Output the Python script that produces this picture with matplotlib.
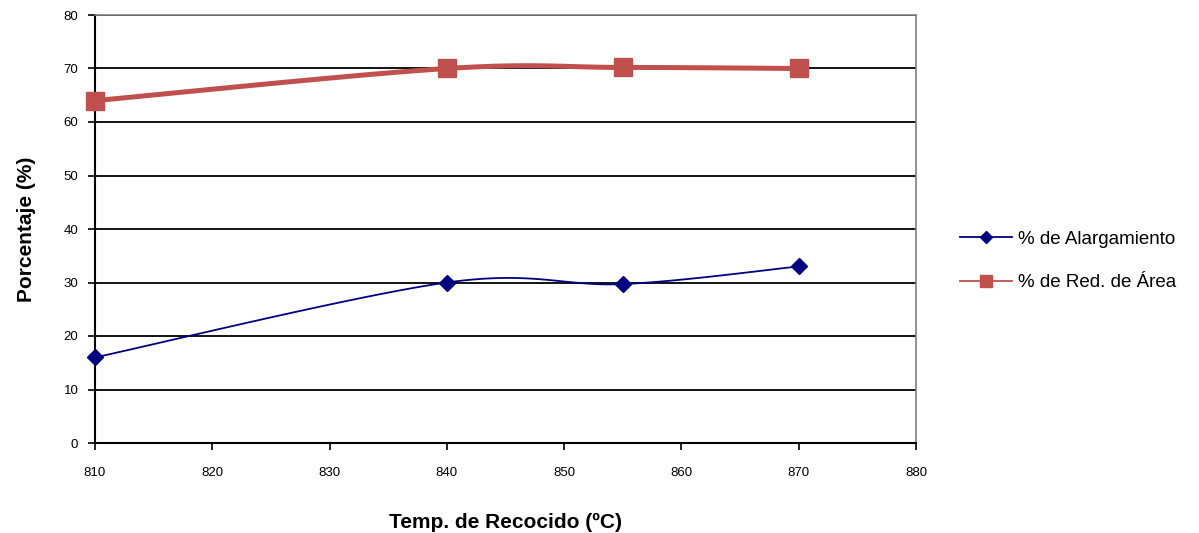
import numpy as np
import matplotlib
matplotlib.use('Agg')
import matplotlib.pyplot as plt

plt.rcParams['font.family'] = ['Liberation Sans', 'DejaVu Sans']

temps = [810, 840, 855, 870]
alargamiento = [16, 30, 29.7, 33]
red_area = [64, 70, 70.2, 70]

X_LIM = (810, 880)
Y_LIM = (0, 80)


def smooth(xs, ys, sx, sy, n=40):
    # Catmull-Rom bezier through the points, computed in screen-like units
    p = np.column_stack([np.asarray(xs, float) * sx, np.asarray(ys, float) * sy])
    out = [p[0]]
    for i in range(len(p) - 1):
        p0 = p[i - 1] if i > 0 else p[i]
        p3 = p[i + 2] if i + 2 < len(p) else p[i + 1]
        p1, p2 = p[i], p[i + 1]
        c1 = p1 + (p2 - p0) / 6
        c2 = p2 - (p3 - p1) / 6
        t = np.linspace(0, 1, n)[1:, None]
        seg = ((1 - t) ** 3) * p1 + 3 * ((1 - t) ** 2) * t * c1 + 3 * (1 - t) * t ** 2 * c2 + t ** 3 * p2
        out.extend(seg)
    out = np.array(out)
    return out[:, 0] / sx, out[:, 1] / sy


fig = plt.figure(figsize=(11.99, 5.33), dpi=100)
ax = fig.add_axes([95 / 1199, 1 - 443 / 533, 821 / 1199, 428 / 533])

sx = 821 / (X_LIM[1] - X_LIM[0])
sy = 428 / (Y_LIM[1] - Y_LIM[0])

blue = '#000080'
red = '#C0504D'

bx, by = smooth(temps, alargamiento, sx, sy)
ax.plot(bx, by, color=blue, lw=1.3, zorder=3, clip_on=False)
ax.plot(temps, alargamiento, ls='none', marker='D', ms=8, color=blue, zorder=4, clip_on=False)

rx, ry = smooth(temps, red_area, sx, sy)
ax.plot(rx, ry, color=red, lw=3.6, zorder=3, clip_on=False)
ax.plot(temps, red_area, ls='none', marker='s', ms=13.5, color=red, zorder=4, clip_on=False)

# legend proxies
ax.plot([], [], color=blue, lw=1.3, marker='D', ms=6, label='% de Alargamiento')
ax.plot([], [], color=red, lw=1.3, marker='s', ms=9, label='% de Red. de Área')

ax.set_xlim(*X_LIM)
ax.set_ylim(*Y_LIM)
ax.set_xticks(range(810, 881, 10))
ax.set_yticks(range(0, 81, 10))
ax.yaxis.grid(True, color='black', lw=1.3)
ax.set_axisbelow(True)

for side in ['top', 'right']:
    ax.spines[side].set_color('#808080')
    ax.spines[side].set_linewidth(1.2)
for side in ['left', 'bottom']:
    ax.spines[side].set_color('black')
    ax.spines[side].set_linewidth(1.5)

ax.tick_params(axis='both', direction='out', length=5, width=1.2, labelsize=9.5)
ax.tick_params(axis='x', pad=12.5)
ax.tick_params(axis='y', pad=7)

ax.set_xlabel('Temp. de Recocido (ºC)', fontsize=15, fontweight='bold', labelpad=24)
ax.set_ylabel('Porcentaje (%)', fontsize=15, fontweight='bold', labelpad=20)

fig.legend(handles=ax.get_lines()[-2:], loc='center left', bbox_to_anchor=(960 / 1199, 1 - 261 / 533),
           frameon=False, fontsize=13.5, labelspacing=1.4, handlelength=2.77, handletextpad=0.3,
           borderpad=0, borderaxespad=0)

fig.savefig('out.png', dpi=100)
